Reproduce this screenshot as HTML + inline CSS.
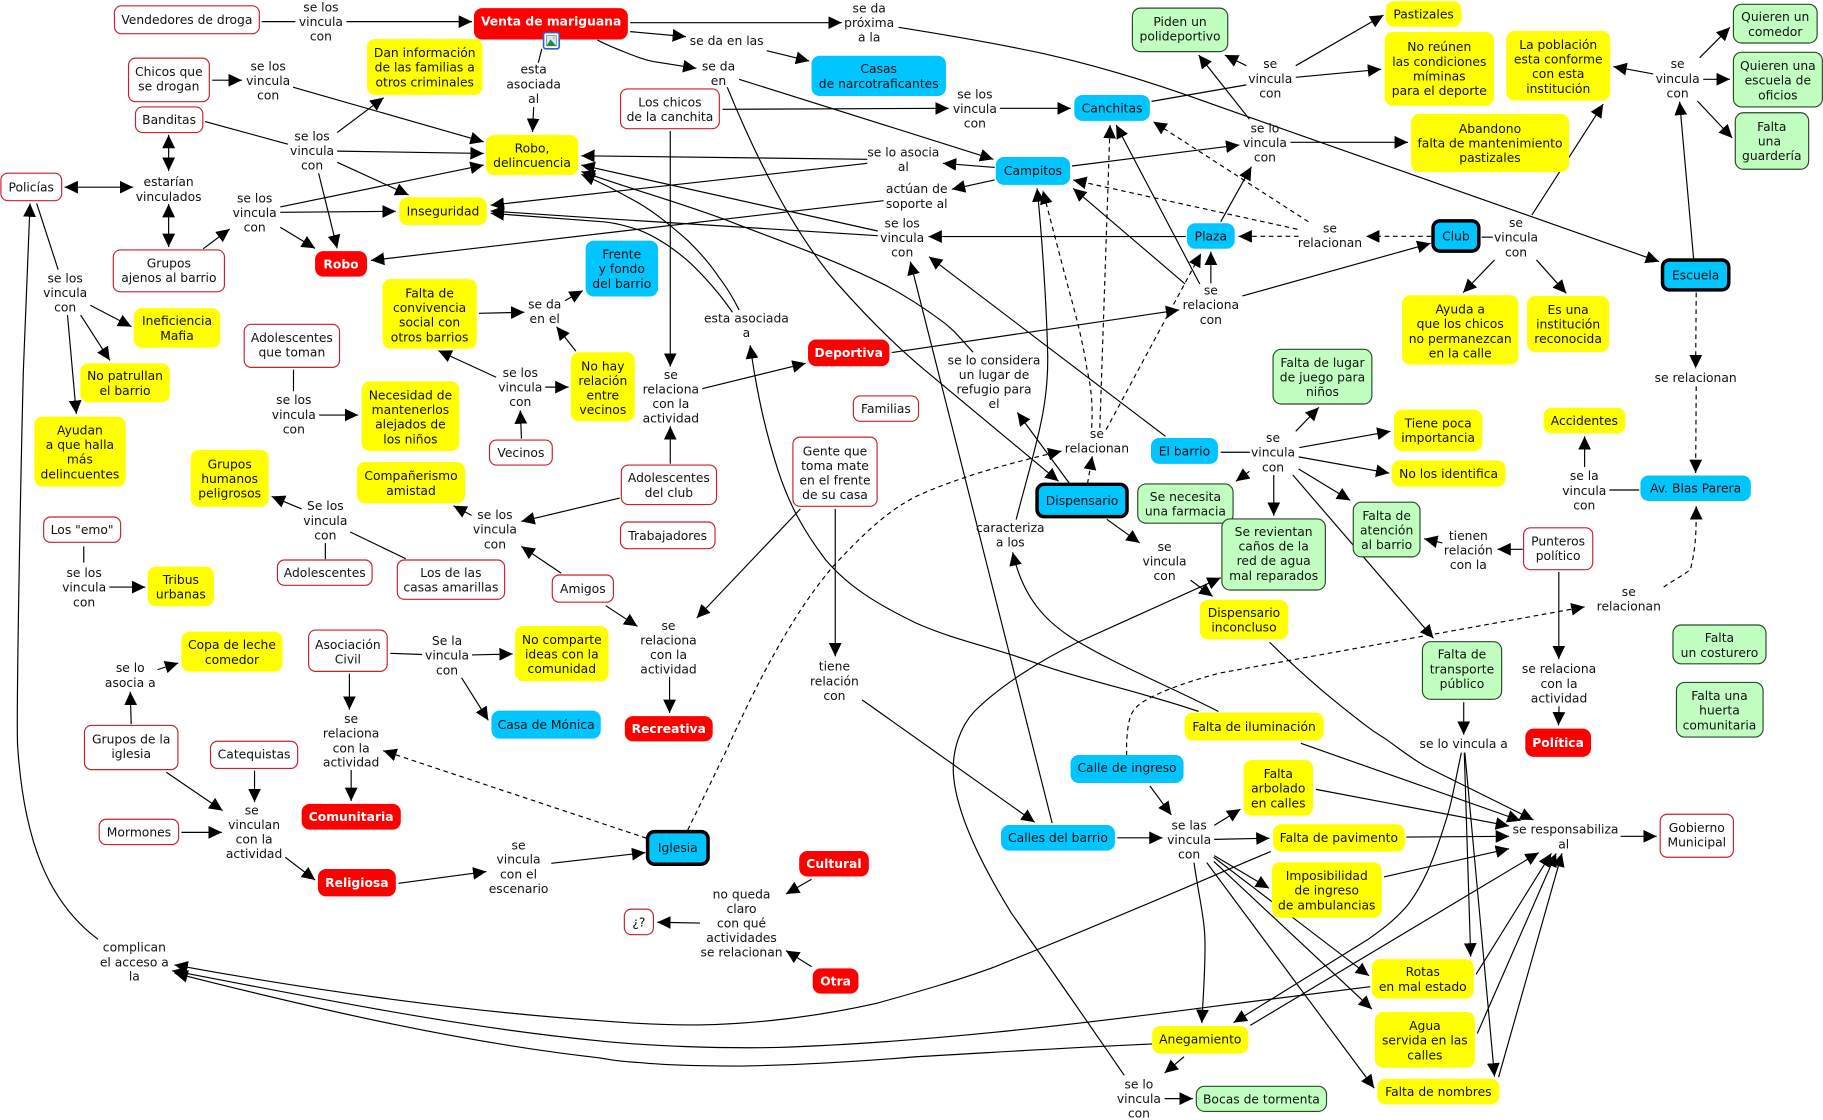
<!DOCTYPE html>
<html><head><meta charset="utf-8"><title>Mapa conceptual</title>
<style>
html,body{margin:0;padding:0;background:#fff;width:1823px;height:1120px;overflow:hidden}
svg{display:block}
text{font-family:"DejaVu Sans","Liberation Sans",sans-serif;font-size:10.6px;text-anchor:middle;fill:#111}
.rt text{fill:#fff;font-weight:bold}
.e path{fill:none;stroke:#000;stroke-width:1}
.e path.a{marker-end:url(#m)}
.e path.d{stroke-dasharray:4 3.2}
.e path.t{marker-start:url(#s);marker-end:url(#m)}
.y{fill:#ff0}.b{fill:#00c5ff}.r{fill:#f00}
.w{fill:#fff;stroke:#c8232c;stroke-width:1}
.g{fill:#c0ffc0;stroke:#2a4a2a;stroke-width:1}
.k{fill:#00c5ff;stroke:#000;stroke-width:3}
</style></head><body>
<svg width="1823" height="1120" viewBox="0 0 1568 963.4" xmlns="http://www.w3.org/2000/svg">
<defs>
<marker id="m" markerUnits="userSpaceOnUse" markerWidth="13" markerHeight="13" refX="11.5" refY="5.5" orient="auto"><path d="M0,0L11.5,5.5L0,11z" fill="#000"/></marker>
<marker id="s" markerUnits="userSpaceOnUse" markerWidth="13" markerHeight="13" refX="0" refY="5.5" orient="auto"><path d="M11.5,0L0,5.5L11.5,11z" fill="#000"/></marker>
</defs>
<g class="e">
<path d="M225,18.6L254,18.6"/><path class="a" d="M298,18.6L406,18.6"/>
<path class="a" d="M182.5,69L208,69"/><path class="a" d="M252,75L416,122"/>
<path d="M176.4,104.6L247.6,124"/><path class="a" d="M290,130L416,132"/><path class="a" d="M290,114L330,84"/><path class="a" d="M290,139.6L351.4,167.7"/><path class="a" d="M274,149L290,213.6"/>
<path class="t" d="M145,116L145,147"/><path class="t" d="M55.5,161L114.5,161"/><path class="t" d="M145,175.5L145,212.5"/>
<path class="a" d="M174.7,214L197.5,197"/><path class="a" d="M241,178L416,142"/><path class="a" d="M241,182.6L340.4,181.8"/><path class="a" d="M241,195.5L271,213.6"/>
<path d="M31.5,175L50,232"/><path class="a" d="M77.6,262.6L113,281"/><path class="a" d="M69.3,271L94.4,310"/><path class="a" d="M58,271L65.6,356"/>
<path d="M466,42L463,54"/><path class="a" d="M459,92L458,113.5"/>
<path class="a" d="M412,269.5L451,268.6"/><path class="a" d="M486,258.6L501.3,250"/><path class="a" d="M495.3,302L478.6,281"/><path class="a" d="M426.7,324.5L377,301.6"/><path class="a" d="M469,333L489,333"/><path class="a" d="M448.5,377.3L447.5,353"/>
<path d="M252.4,318L252.4,336.6"/><path class="a" d="M274.5,357L308,357"/>
<path class="a" d="M746,137L500,134"/><path class="a" d="M746,140.5L422,176.5"/><path class="a" d="M755,198.7L500,142"/>
<path class="a" d="M837,303C825,290 820,283 808.5,275C795,265 778,254 761,245C715,222 670,207 628,190.6C590,176 550,165 500,147.6"/>
<path class="a" d="M635.7,266.6C630,255 625,247 618,238C610,226 601,216 591,206.4C578,195 565,184 550,175C535,167 520,158 500,150"/>
<path class="a" d="M755,202.7L516,187.8L422,181.5"/>
<path class="a" d="M630,268.6C620,254 608,240 594,226.5C580,214 565,204 550,198C535,193 525,191 516,190.6L422,183.5"/>
<path class="a" d="M760,172.6L319,224"/>
<path class="a" d="M1031,612C985,596 935,586 890,570C855,557 822,551 788,536C755,520 730,505 710,481.4C690,455 678,432 669,404C660,376 652,345 645.2,297"/>
<path class="a" d="M542,19.5L724,19.5"/><path class="a" d="M542,27.2L590,31.5"/><path class="a" d="M659.5,43.6L696,52.5"/>
<path class="a" d="M514,34.4C520,38 528,41 536.4,44.4C545,48 553,51 562,53C575,55 588,57 599,58.8"/>
<path class="a" d="M635.7,68.2L854.4,137"/>
<path class="a" d="M625.5,75C648,130 680,197 720,243.7C745,272 770,297 795,318L910.5,414"/>
<path class="a" d="M772.8,23.5C820,31 860,38 897,46C950,58 1000,74 1041,89L1427,225"/>
<path class="a" d="M621.4,94L816,93.2"/><path class="a" d="M860,93.2L921,93.2"/><path class="a" d="M576.5,112.7L576.5,315.4"/>
<path d="M990.5,87.2L1072,73"/><path class="a" d="M922,142.8L1066,124.7"/><path class="a" d="M855.5,144L811,140.5"/><path class="a" d="M855.5,154.8L818.7,162.8"/>
<path class="a" d="M1020,203.5L798.6,203.5"/><path class="a" d="M1050,190.7L1076.4,143.4"/><path class="a" d="M1110,122.4L1211,122.4"/>
<path class="a" d="M1114.5,56.5L1190,13"/><path class="a" d="M1114.5,66.5L1188,59.6"/><path class="a" d="M1072,56.5L1053.5,47.3"/><path class="a" d="M1074.7,102.6L1031,47.3"/>
<path class="a d" d="M1117,203.3L1065.3,203.3"/><path class="a d" d="M1231,203.3L1175,203.3"/><path class="a d" d="M1125.3,190.7L992,104.7"/><path class="a d" d="M1115.9,197.2L923,154.8"/>
<path d="M1274.4,204L1284,204"/><path class="a" d="M1285.5,223.6L1258.5,251.7"/><path class="a" d="M1321.6,223.6L1347.2,252.3"/><path class="a" d="M1317.6,185L1379,89.5"/>
<path class="a" d="M1456.8,223L1444.7,87.5"/><path class="a" d="M1422,63.6L1387.7,57.3"/><path class="a" d="M1462,49.6L1488,23.5"/><path class="a" d="M1465,68.2L1488,68.2"/><path class="a" d="M1460,86.9L1490,118.7"/>
<path class="a d" d="M1459,251.7L1458.5,316.8"/><path class="a d" d="M1459,332.3L1458.5,406.9"/>
<path class="a" d="M767,303.3L1014.3,266.6"/><path class="a" d="M1068.7,254.6L1230.5,209.3"/><path class="a" d="M1041.5,243.7L1041.5,216.5"/><path class="a" d="M1019.4,244.3L923,162"/><path class="a" d="M1032,244.3L960,107.5"/>
<path class="a" d="M604,334.3L693,312.5"/><path class="a" d="M576.5,398.8L576.5,366.7"/><path class="a" d="M533,428.4L448.4,448.5"/><path class="a" d="M482.6,493L448.4,470"/><path class="a" d="M405.6,443.3L390,435"/><path class="a" d="M259.4,437.8L233.6,427"/>
<path d="M279.8,481L279.8,467"/><path d="M349,480.6L301.2,457.6"/>
<path d="M72,470L72,484"/><path class="a" d="M94,505L125,505"/>
<path class="a" d="M521,521L548.3,538.8"/><path class="a" d="M688.4,437.8L599.3,531.6"/><path class="a" d="M718.4,437.8L718.4,564.6"/><path class="a" d="M741.5,602L890,707.3"/><path class="a" d="M575.9,582.3L575.9,613.3"/>
<path class="a" d="M905,708L783,225"/><path class="a" d="M1002.4,375.3L799,220.8"/><path class="a" d="M920,416L875,354.7"/>
<path class="a d" d="M935.4,416L939.5,392.5"/><path class="a d" d="M951.4,369.6L1033,218"/><path class="a d" d="M946,368L954.8,107.5"/>
<path class="a d" d="M939,368C940,350 939,335 935,318C930,285 922,260 914,229L897,164"/>
<path class="a" d="M874,447C890,385 903,350 901,300C900,260 896,200 892,162"/>
<path class="a" d="M1048,612C1005,590 960,572 924,550C900,535 880,515 871,475"/>
<path class="a" d="M952,446.7L980.3,467"/><path class="a" d="M1024,499L1043,513"/>
<path class="a" d="M967,925C945,893 905,835 870,785.6C845,745 822,700 820,665C819,645 826,625 838,612C860,590 895,568 926,553L1050,497"/>
<path class="a d" d="M969,650L969,640C970,620 972,612 980,606C990,598 1015,588 1049,579L1363,522"/>
<path class="a d" d="M1431,505C1438,500 1446,496 1454,490C1459,470 1459,455 1459,435.5"/>
<path d="M1050,389L1075,389"/><path class="a" d="M1114.5,371L1134.4,350.4"/><path class="a" d="M1117.6,385L1196,371"/><path class="a" d="M1117,393L1195,407"/><path class="a" d="M1074.7,405.4L1063,414"/><path class="a" d="M1095.6,408.6L1095.6,443.6"/><path class="a" d="M1117,403.4L1161.4,430.4"/><path class="a" d="M1112,408.6L1233,549"/>
<path class="a" d="M1309.8,472.5L1288,472.5"/><path class="a" d="M1240.6,467L1225,463.4"/><path class="a" d="M1340.8,492L1340.8,567"/><path class="a" d="M1341,607.6L1340.5,624"/>
<path d="M1384.3,421.5L1410,421.5"/><path class="a" d="M1363,401.7L1363,375.3"/><path class="a" d="M1259,604L1259,632"/>
<path class="a" d="M1259.5,647.4L1265,822.8"/><path class="a" d="M1260,647.4L1285.5,926"/>
<path class="a" d="M1257,647.4C1251,675 1249,690 1243,708C1233,740 1224,762 1209.6,780C1198,793 1188,800 1176,808.5L1061,879.6"/>
<path class="a" d="M1092,552.5C1125,585 1150,605 1176,625C1185,632 1190,634 1193,636.5C1205,645 1215,653 1226.5,659.4L1319,705.3"/>
<path class="a" d="M1119,639.4L1308,706"/><path class="a" d="M1132,679L1298,710.5"/><path class="a" d="M1209.6,720L1298,719.4"/><path class="a" d="M1190.4,754.3L1298,730"/><path class="a" d="M1075.4,882L1323.6,733.4"/><path class="a" d="M1269.7,838L1334.4,734"/><path class="a" d="M1270.7,889L1338.5,734"/><path class="a" d="M1289,926.6L1343.5,734"/><path class="a" d="M1394,719.4L1425,719.4"/>
<path class="a" d="M989,676L1007.5,701"/><path class="a" d="M961,720.7L1000,720.7"/><path class="a" d="M1044.4,710L1067,696"/><path class="a" d="M1044.4,722L1092,721"/><path class="a" d="M1044.4,736L1091.6,764"/><path class="a" d="M1044,737.4L1177.6,839.4"/><path class="a" d="M1044,741L1180,868"/><path class="a" d="M1038,742L1182,936"/>
<path class="a" d="M1027,742C1031,770 1036,790 1036.4,808C1037,830 1035,855 1033.7,880"/>
<path class="a" d="M1093,732.5C1060,746 960,790 856,831.5C825,843 790,853 754,863C705,874 650,881 601,881.6C570,882 540,880 516,878C400,870 270,852 150,830"/>
<path class="a" d="M1178.6,848.7L1041,866C920,882 790,897 669,901C620,902 560,900 516,895.4C390,883 270,858 148,835"/>
<path class="a" d="M991,898C920,901 860,905 788,909C740,913 690,916 638.4,917C600,917 570,916 550,914C530,913 522,911 516,910C400,897 280,870 150,837"/>
<path class="a" d="M84.3,808C40,775 20,720 15,640C14,600 18,400 20,320L25.8,175"/>
<path d="M335.7,562L363,563"/><path class="a" d="M406,563.4L441,562.5"/><path class="a" d="M397,583L420,619.6"/><path class="a" d="M300.5,579.5L300.5,610.4"/><path class="a" d="M302,662.3L302,689"/>
<path class="a d" d="M556,721L329.6,645.7"/>
<path class="a d" d="M591.5,714L625,645C650,590 680,530 716.7,487C740,462 762,440 788,427C825,410 870,398 913,388"/>
<path class="a" d="M112.8,623L112,595"/><path class="a" d="M135.5,576L153.3,570.3"/><path class="a" d="M143,664.3L191.4,697.3"/><path class="a" d="M218.9,663L218.9,690"/><path class="a" d="M156,716L190.8,716"/><path class="a" d="M245.3,737.4L271,757"/><path class="a" d="M342.7,759.8L418.3,749.7"/><path class="a" d="M474.2,742.6L555,733.4"/>
<path class="a" d="M698,756.3L676,769"/><path class="a" d="M602,794L565.3,793.3"/><path class="a" d="M698,831.5L676,817.7"/>
<path class="a" d="M1018.4,909L1001.7,923"/><path class="a" d="M1001.7,945L1026,945"/>
</g>
<!-- white nodes -->
<g>
<rect class="w" x="98.4" y="5" width="124.6" height="24" rx="6"/><text x="160.7" y="20.5">Vendedores de droga</text>
<rect class="w" x="110.5" y="50" width="69.5" height="37.5" rx="6"/><text x="145.2" y="65.3">Chicos que</text><text x="145.2" y="77.9">se drogan</text>
<rect class="w" x="116.5" y="92" width="57.9" height="22" rx="6"/><text x="145.4" y="106.8">Banditas</text>
<rect class="w" x="0.7" y="149" width="52.3" height="23.6" rx="6"/><text x="26.8" y="164.6">Policías</text>
<rect class="w" x="97.4" y="215" width="95.6" height="36" rx="6"/><text x="145.2" y="230">Grupos</text><text x="145.2" y="242.6">ajenos al barrio</text>
<rect class="w" x="210" y="279" width="82" height="37" rx="6"/><text x="251" y="294.2">Adolescentes</text><text x="251" y="306.8">que toman</text>
<rect class="w" x="533.7" y="76.5" width="85" height="34.2" rx="6"/><text x="576.2" y="91.5">Los chicos</text><text x="576.2" y="104.1">de la canchita</text>
<rect class="w" x="421" y="378.5" width="54" height="21.5" rx="6"/><text x="448" y="393">Vecinos</text>
<rect class="w" x="37.5" y="444.7" width="66.2" height="21.8" rx="6"/><text x="70.6" y="459.4">Los "emo"</text>
<rect class="w" x="238.6" y="481.7" width="81.4" height="21.8" rx="6"/><text x="279.3" y="496.4">Adolescentes</text>
<rect class="w" x="341.7" y="481.7" width="92.3" height="33.8" rx="6"/><text x="387.8" y="496.4">Los de las</text><text x="387.8" y="509">casas amarillas</text>
<rect class="w" x="475" y="494.6" width="52.6" height="23.4" rx="6"/><text x="501.3" y="510">Amigos</text>
<rect class="w" x="265.4" y="542" width="67.6" height="35.5" rx="6"/><text x="299.2" y="558.2">Asociación</text><text x="299.2" y="570.8">Civil</text>
<rect class="w" x="72.6" y="624" width="80.4" height="38" rx="6"/><text x="112.8" y="639.5">Grupos de la</text><text x="112.8" y="652.1">iglesia</text>
<rect class="w" x="734" y="340.6" width="56" height="21.8" rx="6"/><text x="762" y="355.3">Familias</text>
<rect class="w" x="682" y="376" width="72.4" height="59.5" rx="6"/><text x="718.2" y="391.6">Gente que</text><text x="718.2" y="404.2">toma mate</text><text x="718.2" y="416.8">en el frente</text><text x="718.2" y="429.4">de su casa</text>
<rect class="w" x="534.4" y="400" width="81.9" height="34" rx="6"/><text x="575.3" y="414.8">Adolescentes</text><text x="575.3" y="427.4">del club</text>
<rect class="w" x="533.7" y="449" width="81.3" height="23" rx="6"/><text x="574.3" y="464.3">Trabajadores</text>
<rect class="w" x="1310.5" y="454" width="59.5" height="36" rx="6"/><text x="1340.2" y="469.3">Punteros</text><text x="1340.2" y="481.9">político</text>
<rect class="w" x="181" y="637.6" width="75" height="23.4" rx="6"/><text x="218.5" y="652.4">Catequistas</text>
<rect class="w" x="85.3" y="704.7" width="68.3" height="21.8" rx="6"/><text x="119.5" y="719.4">Mormones</text>
<rect class="w" x="537" y="782" width="25" height="22" rx="6"/><text x="549.5" y="797">¿?</text>
<rect class="w" x="1428" y="700.4" width="63" height="37" rx="6"/><text x="1459.5" y="715.6">Gobierno</text><text x="1459.5" y="728.2">Municipal</text>
</g>
<!-- yellow nodes -->
<g>
<rect class="y" x="315.6" y="33.5" width="99.4" height="48.2" rx="7"/><text x="365.3" y="49">Dan información</text><text x="365.3" y="61.6">de las familias a</text><text x="365.3" y="74.2">otros criminales</text>
<rect class="y" x="418" y="116" width="79.3" height="34.5" rx="7"/><text x="457.6" y="131">Robo,</text><text x="457.6" y="143.6">delincuencia</text>
<rect class="y" x="343.4" y="169.7" width="75.3" height="23.8" rx="7"/><text x="381" y="185.4">Inseguridad</text>
<rect class="y" x="115" y="265" width="74.4" height="34" rx="7"/><text x="152.2" y="279.7">Ineficiencia</text><text x="152.2" y="292.3">Mafia</text>
<rect class="y" x="69" y="312.5" width="77" height="33.5" rx="7"/><text x="107.5" y="327">No patrullan</text><text x="107.5" y="339.6">el barrio</text>
<rect class="y" x="329" y="240" width="81" height="60" rx="7"/><text x="369.5" y="255.8">Falta de</text><text x="369.5" y="268.4">convivencia</text><text x="369.5" y="281">social con</text><text x="369.5" y="293.6">otros barrios</text>
<rect class="y" x="491" y="303" width="55" height="59.4" rx="7"/><text x="518.5" y="318.5">No hay</text><text x="518.5" y="331.1">relación</text><text x="518.5" y="343.7">entre</text><text x="518.5" y="356.3">vecinos</text>
<rect class="y" x="1192" y="1" width="65" height="22" rx="7"/><text x="1224.5" y="15.8">Pastizales</text>
<rect class="y" x="1191" y="27.5" width="94" height="63.5" rx="7"/><text x="1238" y="44">No reúnen</text><text x="1238" y="56.6">las condiciones</text><text x="1238" y="69.2">míminas</text><text x="1238" y="81.8">para el deporte</text>
<rect class="y" x="1295.6" y="26.7" width="89.4" height="59.9" rx="7"/><text x="1340.3" y="42">La población</text><text x="1340.3" y="54.6">esta conforme</text><text x="1340.3" y="67.2">con esta</text><text x="1340.3" y="79.8">institución</text>
<rect class="y" x="1213.7" y="98" width="135.9" height="50" rx="7"/><text x="1281.6" y="114.2">Abandono</text><text x="1281.6" y="126.8">falta de mantenimiento</text><text x="1281.6" y="139.4">pastizales</text>
<rect class="y" x="1206" y="254" width="100" height="59.6" rx="7"/><text x="1256" y="269.7">Ayuda a</text><text x="1256" y="282.3">que los chicos</text><text x="1256" y="294.9">no permanezcan</text><text x="1256" y="307.5">en la calle</text>
<rect class="y" x="1313.5" y="254.6" width="70.5" height="48.2" rx="7"/><text x="1348.8" y="270">Es una</text><text x="1348.8" y="282.6">institución</text><text x="1348.8" y="295.2">reconocida</text>
<rect class="y" x="29.5" y="358.4" width="78.5" height="60.2" rx="7"/><text x="68.7" y="373.7">Ayudan</text><text x="68.7" y="386.3">a que halla</text><text x="68.7" y="398.9">más</text><text x="68.7" y="411.5">delincuentes</text>
<rect class="y" x="311" y="328" width="84" height="60" rx="7"/><text x="353" y="343.5">Necesidad de</text><text x="353" y="356.1">mantenerlos</text><text x="353" y="368.7">alejados de</text><text x="353" y="381.3">los niños</text>
<rect class="y" x="164" y="387" width="67" height="49" rx="7"/><text x="197.5" y="402.8">Grupos</text><text x="197.5" y="415.4">humanos</text><text x="197.5" y="428">peligrosos</text>
<rect class="y" x="307" y="397.4" width="93" height="35.6" rx="7"/><text x="353.5" y="413">Compañerismo</text><text x="353.5" y="425.6">amistad</text>
<rect class="y" x="127" y="487.4" width="57" height="34.1" rx="7"/><text x="155.5" y="502.4">Tribus</text><text x="155.5" y="515">urbanas</text>
<rect class="y" x="156" y="543.3" width="87" height="34.4" rx="7"/><text x="199.5" y="558.4">Copa de leche</text><text x="199.5" y="571">comedor</text>
<rect class="y" x="443" y="538.5" width="80.4" height="47.5" rx="7"/><text x="483.2" y="553.9">No comparte</text><text x="483.2" y="566.5">ideas con la</text><text x="483.2" y="579.1">comunidad</text>
<rect class="y" x="1199" y="352.4" width="76" height="35.6" rx="7"/><text x="1237" y="367.8">Tiene poca</text><text x="1237" y="380.4">importancia</text>
<rect class="y" x="1197" y="396" width="98" height="22.6" rx="7"/><text x="1246" y="411">No los identifica</text>
<rect class="y" x="1327.7" y="350.7" width="70.3" height="22.1" rx="7"/><text x="1362.8" y="365.5">Accidentes</text>
<rect class="y" x="1032" y="516" width="76" height="34" rx="7"/><text x="1070" y="530.8">Dispensario</text><text x="1070" y="543.4">inconcluso</text>
<rect class="y" x="1019" y="613" width="119.5" height="24" rx="7"/><text x="1078.7" y="628.7">Falta de iluminación</text>
<rect class="y" x="1069.7" y="653.7" width="59.7" height="47.9" rx="7"/><text x="1099.5" y="669.2">Falta</text><text x="1099.5" y="681.8">arbolado</text><text x="1099.5" y="694.4">en calles</text>
<rect class="y" x="1095" y="709" width="113.3" height="23.5" rx="7"/><text x="1151.6" y="724.2">Falta de pavimento</text>
<rect class="y" x="1094" y="741.7" width="94.4" height="47.6" rx="7"/><text x="1141.2" y="757">Imposibilidad</text><text x="1141.2" y="769.6">de ingreso</text><text x="1141.2" y="782.2">de ambulancias</text>
<rect class="y" x="991" y="882.5" width="82.7" height="23.8" rx="7"/><text x="1032.4" y="897.8">Anegamiento</text>
<rect class="y" x="1180" y="825" width="87.6" height="34" rx="7"/><text x="1223.8" y="839.7">Rotas</text><text x="1223.8" y="852.3">en mal estado</text>
<rect class="y" x="1182.6" y="870.5" width="86.1" height="47.8" rx="7"/><text x="1225.6" y="886">Agua</text><text x="1225.6" y="898.6">servida en las</text><text x="1225.6" y="911.2">calles</text>
<rect class="y" x="1184.7" y="928" width="104.9" height="22" rx="7"/><text x="1237.2" y="942.8">Falta de nombres</text>
</g>
<!-- green nodes -->
<g>
<rect class="g" x="974" y="7" width="82" height="37.4" rx="7"/><text x="1015" y="22.2">Piden un</text><text x="1015" y="34.8">polideportivo</text>
<rect class="g" x="1491" y="3.7" width="72" height="33.3" rx="7"/><text x="1527" y="18.2">Quieren un</text><text x="1527" y="30.8">comedor</text>
<rect class="g" x="1491" y="45" width="76.5" height="47" rx="7"/><text x="1529.2" y="60.3">Quieren una</text><text x="1529.2" y="72.9">escuela de</text><text x="1529.2" y="85.5">oficios</text>
<rect class="g" x="1492.6" y="97" width="63.1" height="48.6" rx="7"/><text x="1524" y="112.5">Falta</text><text x="1522" y="125.1">una</text><text x="1524" y="137.7">guardería</text>
<rect class="g" x="1095" y="300.5" width="85" height="47" rx="7"/><text x="1137.5" y="315.6">Falta de lugar</text><text x="1137.5" y="328.2">de juego para</text><text x="1137.5" y="340.8">niños</text>
<rect class="g" x="978.6" y="416.3" width="82" height="33.7" rx="7"/><text x="1019.6" y="430.9">Se necesita</text><text x="1019.6" y="443.5">una farmacia</text>
<rect class="g" x="1051" y="446.4" width="89" height="61.1" rx="7"/><text x="1095.5" y="461">Se revientan</text><text x="1095.5" y="473.6">caños de la</text><text x="1095.5" y="486.2">red de agua</text><text x="1095.5" y="498.8">mal reparados</text>
<rect class="g" x="1164" y="432" width="57.4" height="47" rx="7"/><text x="1192.7" y="447.2">Falta de</text><text x="1192.7" y="459.8">atención</text><text x="1192.7" y="472.4">al barrio</text>
<rect class="g" x="1223.5" y="552" width="68.1" height="49.5" rx="7"/><text x="1257.5" y="566.6">Falta de</text><text x="1257.5" y="579.2">transporte</text><text x="1257.5" y="591.8">público</text>
<rect class="g" x="1439" y="537.6" width="80" height="33.4" rx="7"/><text x="1479" y="552.4">Falta</text><text x="1479" y="565">un costurero</text>
<rect class="g" x="1442" y="587" width="74.5" height="47" rx="7"/><text x="1479" y="602.2">Falta una</text><text x="1479" y="614.8">huerta</text><text x="1479" y="627.4">comunitaria</text>
<rect class="g" x="1029" y="934.4" width="112" height="21.6" rx="7"/><text x="1085" y="949">Bocas de tormenta</text>
</g>
<!-- blue nodes -->
<g>
<rect class="b" x="503.7" y="207" width="62.3" height="48" rx="7"/><text x="534.8" y="222.4">Frente</text><text x="534.8" y="235">y fondo</text><text x="534.8" y="247.6">del barrio</text>
<rect class="b" x="698" y="48" width="115.6" height="34.6" rx="7"/><text x="755.8" y="63">Casas</text><text x="755.8" y="75.6">de narcotraficantes</text>
<rect class="b" x="924" y="81.7" width="65" height="22.3" rx="7"/><text x="956.5" y="96.6">Canchitas</text>
<rect class="b" x="856.5" y="135" width="63.9" height="24" rx="7"/><text x="888.5" y="150.6">Campitos</text>
<rect class="b" x="1021" y="192" width="41" height="22" rx="7"/><text x="1041.5" y="206.8">Plaza</text>
<rect class="b" x="990" y="376.8" width="57.6" height="22.2" rx="7"/><text x="1018.8" y="391.7">El barrio</text>
<rect class="b" x="422.7" y="611.3" width="94" height="24.1" rx="7"/><text x="469.7" y="627">Casa de Mónica</text>
<rect class="b" x="1411" y="409" width="95" height="22" rx="7"/><text x="1458.5" y="423.8">Av. Blas Parera</text>
<rect class="b" x="920.8" y="649.4" width="97.2" height="24.1" rx="7"/><text x="969.4" y="664">Calle de ingreso</text>
<rect class="b" x="861" y="709.6" width="98" height="22.1" rx="7"/><text x="910" y="724.2">Calles del barrio</text>
<rect class="k" x="1232.6" y="190" width="39.4" height="26" rx="6"/><text x="1252.3" y="206.8">Club</text>
<rect class="k" x="1430" y="223.6" width="57" height="25.8" rx="6"/><text x="1458.5" y="240.3">Escuela</text>
<rect class="k" x="892" y="416.6" width="77.4" height="27.8" rx="6"/><text x="930.7" y="434.2">Dispensario</text>
<rect class="k" x="557" y="715.3" width="52" height="28.1" rx="6"/><text x="583" y="732.8">Iglesia</text>
</g>
<!-- red nodes -->
<g class="rt">
<rect class="r" x="407.6" y="7" width="132.4" height="27" rx="7"/><text x="474" y="21.8">Venta de mariguana</text>
<rect class="r" x="271" y="216" width="44.6" height="22" rx="7"/><text x="293.3" y="230.8">Robo</text>
<rect class="r" x="695" y="292" width="70" height="23" rx="7"/><text x="730" y="307.2">Deportiva</text>
<rect class="r" x="537.4" y="616" width="75.6" height="21.7" rx="7"/><text x="575.2" y="630.6">Recreativa</text>
<rect class="r" x="1312" y="626.8" width="56.5" height="24.2" rx="7"/><text x="1340.2" y="642.7">Política</text>
<rect class="r" x="259.4" y="691.5" width="85.3" height="22.1" rx="7"/><text x="302" y="706.4">Comunitaria</text>
<rect class="r" x="273.4" y="747.5" width="67" height="23.5" rx="7"/><text x="306.9" y="763">Religiosa</text>
<rect class="r" x="687.4" y="732" width="59.9" height="22" rx="7"/><text x="717.3" y="746.8">Cultural</text>
<rect class="r" x="699" y="833" width="39.4" height="21.7" rx="7"/><text x="718.7" y="847.6">Otra</text>
</g>
<!-- image icon -->
<g>
<rect x="467.5" y="28" width="13.5" height="14" rx="2" fill="#fff" stroke="#2a62c8" stroke-width="1.4"/>
<rect x="470" y="30.5" width="8.5" height="9" fill="#cfe6ff" stroke="#444" stroke-width=".4"/>
<path d="M470,39.5L473.5,34L478.5,39.5z" fill="#1f8a3a"/><circle cx="476.5" cy="32.5" r="1" fill="#e8c030"/>
</g>
<!-- labels -->
<g>
<text x="276" y="9.8">se los</text><text x="276" y="22.4">vincula</text><text x="276" y="34.8">con</text>
<text x="230.6" y="60.6">se los</text><text x="230.6" y="73.2">vincula</text><text x="230.6" y="85.8">con</text>
<text x="268.4" y="120.8">se los</text><text x="268.4" y="133.4">vincula</text><text x="268.4" y="146">con</text>
<text x="459" y="63.4">esta</text><text x="459" y="76">asociada</text><text x="459" y="88.7">al</text>
<text x="145" y="160.1">estarían</text><text x="145" y="172.7">vinculados</text>
<text x="219" y="174.1">se los</text><text x="219" y="186.8">vincula</text><text x="219" y="199.3">con</text>
<text x="56" y="242.8">se los</text><text x="56" y="255.5">vincula</text><text x="56" y="268.1">con</text>
<text x="468.5" y="265.3">se da</text><text x="468.5" y="277.8">en el</text>
<text x="447.5" y="324.3">se los</text><text x="447.5" y="336.8">vincula</text><text x="447.5" y="349.4">con</text>
<text x="747.6" y="10.8">se da</text><text x="747.6" y="23.3">próxima</text><text x="747.6" y="35.8">a la</text>
<text x="625" y="38.8">se da en las</text>
<text x="618" y="60.6">se da</text><text x="618" y="73.2">en</text>
<text x="838.5" y="84.6">se los</text><text x="838.5" y="97.3">vincula</text><text x="838.5" y="109.8">con</text>
<text x="777" y="134.5">se lo asocia</text><text x="777" y="147.2">al</text>
<text x="788.5" y="166.1">actúan de</text><text x="788.5" y="178.8">soporte al</text>
<text x="776" y="195.6">se los</text><text x="776" y="208.2">vincula</text><text x="776" y="220.8">con</text>
<text x="642" y="277.3">esta asociada</text><text x="642" y="289.8">a</text>
<text x="855" y="313.4">se lo considera</text><text x="855" y="326.1">un lugar de</text><text x="855" y="338.4">refugio para</text><text x="855" y="351">el</text>
<text x="577" y="326.1">se</text><text x="577" y="338.4">relaciona</text><text x="577" y="351">con la</text><text x="577" y="363.4">actividad</text>
<text x="1092.6" y="58.6">se</text><text x="1092.6" y="71.2">vincula</text><text x="1092.6" y="83.8">con</text>
<text x="1088" y="113.8">se lo</text><text x="1088" y="126.5">vincula</text><text x="1088" y="139.1">con</text>
<text x="1144" y="199.8">se</text><text x="1144" y="212.5">relacionan</text>
<text x="1041.5" y="253.2">se</text><text x="1041.5" y="265.8">relaciona</text><text x="1041.5" y="278.5">con</text>
<text x="1304" y="195.3">se</text><text x="1304" y="207.8">vincula</text><text x="1304" y="220.5">con</text>
<text x="1443" y="58.6">se</text><text x="1443" y="71.2">vincula</text><text x="1443" y="83.8">con</text>
<text x="1458.5" y="328.8">se relacionan</text>
<text x="943.5" y="376.6">se</text><text x="943.5" y="389.2">relacionan</text>
<text x="869" y="457.4">caracteriza</text><text x="869" y="470">a los</text>
<text x="1001.7" y="473.8">se</text><text x="1001.7" y="486.4">vincula</text><text x="1001.7" y="499">con</text>
<text x="575" y="541.8">se</text><text x="575" y="554.3">relaciona</text><text x="575" y="566.8">con la</text><text x="575" y="579.5">actividad</text>
<text x="717.7" y="576.8">tiene</text><text x="717.7" y="589.6">relación</text><text x="717.7" y="602.2">con</text>
<text x="252.7" y="347.6">se los</text><text x="252.7" y="360.2">vincula</text><text x="252.7" y="372.8">con</text>
<text x="279.8" y="438.8">Se los</text><text x="279.8" y="451.4">vincula</text><text x="279.8" y="464">con</text>
<text x="425.7" y="446.5">se los</text><text x="425.7" y="459.1">vincula</text><text x="425.7" y="471.8">con</text>
<text x="72.3" y="496.4">se los</text><text x="72.3" y="509">vincula</text><text x="72.3" y="521.6">con</text>
<text x="112" y="578.1">se lo</text><text x="112" y="590.8">asocia a</text>
<text x="384.5" y="554.8">Se la</text><text x="384.5" y="567.5">vincula</text><text x="384.5" y="580.1">con</text>
<text x="302" y="621.8">se</text><text x="302" y="634.3">relaciona</text><text x="302" y="647.2">con la</text><text x="302" y="659.5">actividad</text>
<text x="1095" y="380.3">se</text><text x="1095" y="392.8">vincula</text><text x="1095" y="405.5">con</text>
<text x="1362.7" y="412.8">se la</text><text x="1362.7" y="425.6">vincula</text><text x="1362.7" y="438.2">con</text>
<text x="1263" y="464.3">tienen</text><text x="1263" y="476.8">relación</text><text x="1263" y="489.5">con la</text>
<text x="1401" y="512.5">se</text><text x="1401" y="525.1">relacionan</text>
<text x="1341" y="578.8">se relaciona</text><text x="1341" y="591.6">con la</text><text x="1341" y="604.2">actividad</text>
<text x="1259" y="643.5">se lo vincula a</text>
<text x="216.5" y="700.5">se</text><text x="218.5" y="713.1">vinculan</text><text x="218.5" y="725.5">con la</text><text x="218.5" y="738.1">actividad</text>
<text x="446" y="730.6">se</text><text x="446" y="742.8">vincula</text><text x="446" y="755.6">con el</text><text x="446" y="768.2">escenario</text>
<text x="115.5" y="818.6">complican</text><text x="115.5" y="831.2">el acceso a</text><text x="115.5" y="843.6">la</text>
<text x="637.8" y="772.8">no queda</text><text x="637.8" y="785.4">claro</text><text x="637.8" y="798">con qué</text><text x="637.8" y="810.3">actividades</text><text x="637.8" y="822.8">se relacionan</text>
<text x="1022.8" y="713.4">se las</text><text x="1022.8" y="726">vincula</text><text x="1022.8" y="738.6">con</text>
<text x="979.6" y="936.2">se lo</text><text x="979.6" y="948.8">vincula</text><text x="979.6" y="961.4">con</text>
<text x="1346.6" y="717.1">se responsabiliza</text><text x="1345" y="729.8">al</text>
</g>
</svg>
</body></html>
